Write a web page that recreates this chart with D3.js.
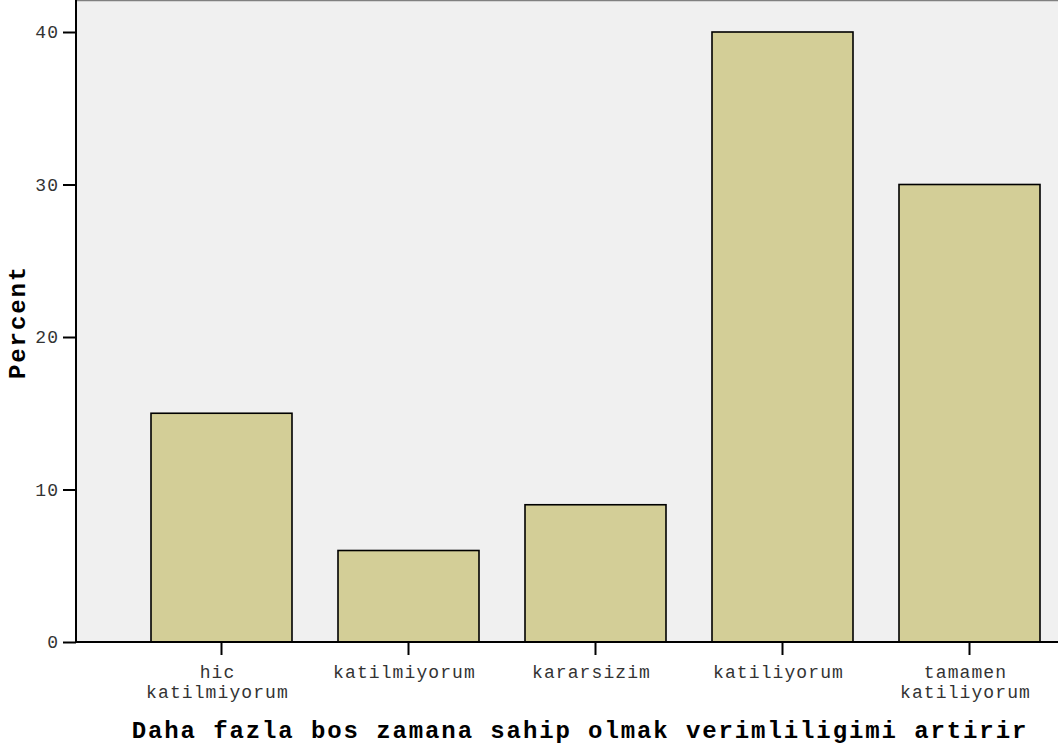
<!DOCTYPE html>
<html><head><meta charset="utf-8">
<script src="https://cdn.jsdelivr.net/npm/d3@7"></script>
<style>body{margin:0;background:#fff;}svg{display:block;}</style>
</head><body>
<svg id="c" width="1058" height="752"></svg>
<script>
const categories = [["hic","katilmiyorum"],["katilmiyorum"],["kararsizim"],["katiliyorum"],["tamamen","katiliyorum"]];
const catKeys = ["hic katilmiyorum","katilmiyorum","kararsizim","katiliyorum","tamamen katiliyorum"];
const values = [15, 6, 9, 40, 30];
const yTicks = [0, 10, 20, 30, 40];
const xTitle = "Daha fazla bos zamana sahip olmak verimliligimi artirir";
const yTitle = "Percent";

const svg = d3.select("#c");
const pLeft = 76, pTop = 0, pRight = 1058, pBottom = 642;
const FONT = "'Liberation Mono', 'Courier New', monospace";
const tickFs = 18, tickLs = 1.1, titleFs = 24, titleLs = 1.9;

const x = d3.scaleBand().domain(catKeys).range([128, 1063]).paddingInner(0.246).paddingOuter(0.123);
const y = d3.scaleLinear().domain([0, 40]).range([pBottom, 32]);

svg.append("rect").attr("x", pLeft).attr("y", pTop).attr("width", pRight - pLeft).attr("height", pBottom - pTop).attr("fill", "#f0f0f0");
svg.append("line").attr("x1", pLeft).attr("x2", pRight).attr("y1", 0.5).attr("y2", 0.5).attr("stroke", "#808080").attr("stroke-width", 1.5);

svg.selectAll("rect.bar").data(values).enter().append("rect").attr("class","bar")
  .attr("x", (d,i) => x(catKeys[i]))
  .attr("y", d => y(d))
  .attr("width", x.bandwidth())
  .attr("height", d => y(0) - y(d))
  .attr("fill", "#d3ce97").attr("stroke", "#000").attr("stroke-width", 1.6);

// y axis
const yAxis = svg.append("g").attr("transform", `translate(${pLeft},0)`)
  .call(d3.axisLeft(y).tickValues(yTicks).tickSize(13).tickPadding(6));
yAxis.select(".domain").remove();
yAxis.selectAll(".tick line").attr("stroke", "#000").attr("stroke-width", 2);
yAxis.selectAll(".tick text").attr("font-family", FONT).attr("font-size", tickFs)
  .attr("letter-spacing", tickLs).attr("dx", tickLs + 1).attr("fill", "#333");
svg.append("line").attr("x1", pLeft).attr("x2", pLeft).attr("y1", 0).attr("y2", pBottom + 1).attr("stroke", "#000").attr("stroke-width", 2);

// x axis
const xAxis = svg.append("g").attr("transform", `translate(0,${pBottom})`)
  .call(d3.axisBottom(x).tickSize(13).tickFormat(""));
xAxis.select(".domain").remove();
xAxis.selectAll(".tick line").attr("stroke", "#000").attr("stroke-width", 2);
svg.append("line").attr("x1", pLeft - 1).attr("x2", pRight).attr("y1", pBottom).attr("y2", pBottom).attr("stroke", "#000").attr("stroke-width", 2);

xAxis.selectAll(".tick").each(function(d, i) {
  const t = d3.select(this).append("text")
    .attr("text-anchor", "middle").attr("font-family", FONT)
    .attr("font-size", tickFs).attr("letter-spacing", tickLs).attr("fill", "#333");
  categories[i].forEach((line, j) => {
    t.append("tspan").attr("x", -4).attr("y", 36 + j * 20).text(line);
  });
});

svg.append("text").attr("x", 579 + titleLs / 2).attr("y", 738).attr("text-anchor", "middle")
  .attr("font-family", FONT).attr("font-weight", "bold")
  .attr("font-size", titleFs).attr("letter-spacing", titleLs).attr("fill", "#000").text(xTitle);

svg.append("text").attr("transform", `translate(25,${321 + titleLs / 2}) rotate(-90)`).attr("text-anchor", "middle")
  .attr("font-family", FONT).attr("font-weight", "bold")
  .attr("font-size", titleFs).attr("letter-spacing", titleLs).attr("fill", "#000").text(yTitle);
</script>
</body></html>
